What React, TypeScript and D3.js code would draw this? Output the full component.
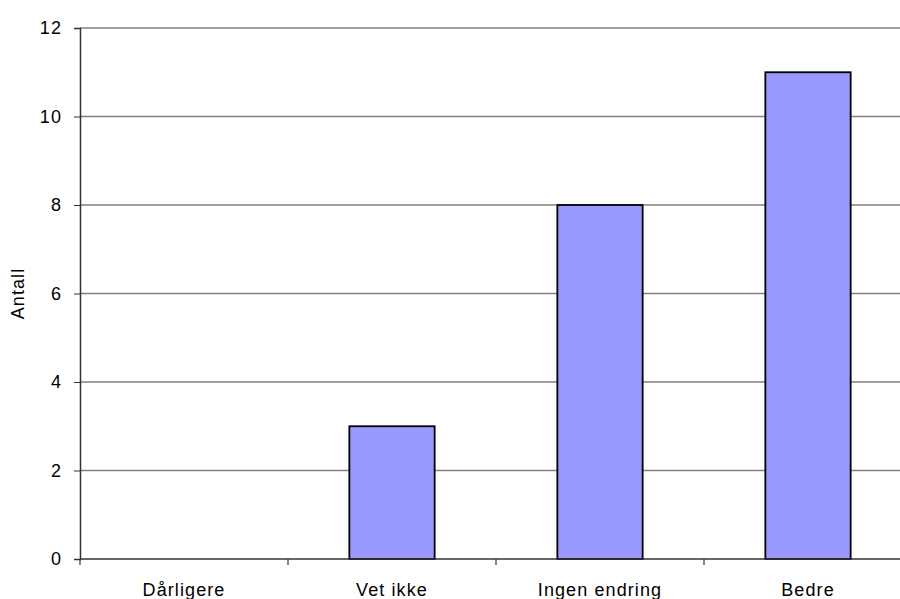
import { useEffect, useRef } from "react";
import * as d3 from "d3";

const categories = ["Dårligere", "Vet ikke", "Ingen endring", "Bedre"];
const counts = [0, 3, 8, 11];
const yTicks = [0, 2, 4, 6, 8, 10, 12];

const W = 900;
const H = 599;
const margin = { left: 80, top: 28, bottom: 40 };

export default function App() {
  const ref = useRef<SVGSVGElement>(null);

  useEffect(() => {
    const svg = d3.select(ref.current);
    svg.selectAll("*").remove();

    const x = d3.scaleBand().domain(categories).range([margin.left, margin.left + 4 * 208]).paddingInner(0).paddingOuter(0);
    const y = d3.scaleLinear().domain([0, 12]).range([H - margin.bottom, margin.top]);
    const font = "'Liberation Sans', Arial, sans-serif";
    const fs = 18;
    const ls = 1.1;

    // gridlines
    svg.append("g")
      .selectAll("line")
      .data(yTicks.filter(t => t > 0))
      .join("line")
      .attr("x1", margin.left)
      .attr("x2", W)
      .attr("y1", d => y(d))
      .attr("y2", d => y(d))
      .attr("stroke", "#808080")
      .attr("stroke-width", 1.5);

    // bars
    const barW = x.bandwidth() * 0.41;
    svg.append("g")
      .selectAll("rect")
      .data(counts.map((v, i) => ({ c: categories[i], v })).filter(d => d.v > 0))
      .join("rect")
      .attr("x", d => x(d.c)! + (x.bandwidth() - barW) / 2)
      .attr("y", d => y(d.v))
      .attr("width", barW)
      .attr("height", d => y(0) - y(d.v))
      .attr("fill", "#9999ff")
      .attr("stroke", "#000")
      .attr("stroke-width", 1.8);

    // y axis
    const yAxis = d3.axisLeft(y).tickValues(yTicks).tickSize(6).tickPadding(12);
    const gy = svg.append("g").attr("transform", `translate(${margin.left},0)`).call(yAxis);
    gy.select(".domain").attr("stroke", "#333").attr("stroke-width", 1.5);
    gy.selectAll(".tick line").attr("stroke", "#333");
    gy.selectAll("text").attr("font-family", font).attr("font-size", fs).attr("letter-spacing", ls).attr("fill", "#000");

    // x axis
    const xAxis = d3.axisBottom(x).tickSize(0).tickPadding(0);
    const gx = svg.append("g").attr("transform", `translate(0,${y(0)})`).call(xAxis);
    gx.select(".domain").attr("d", `M${margin.left},0H${W}`).attr("stroke", "#333").attr("stroke-width", 1.5);
    gx.selectAll("text").attr("font-family", font).attr("font-size", fs).attr("letter-spacing", ls).attr("fill", "#000").attr("dy", 0).attr("y", 37);

    // category separator ticks
    svg.append("g")
      .selectAll("line")
      .data(categories)
      .join("line")
      .attr("x1", d => x(d)!)
      .attr("x2", d => x(d)!)
      .attr("y1", y(0))
      .attr("y2", y(0) + 6)
      .attr("stroke", "#333")
      .attr("stroke-width", 1.2);

    svg.append("text")
      .attr("transform", `translate(24,${(y(0) + y(12)) / 2}) rotate(-90)`)
      .attr("text-anchor", "middle")
      .attr("font-family", font)
      .attr("font-size", fs)
      .attr("letter-spacing", ls)
      .text("Antall");
  }, []);

  return (
    <svg ref={ref} width={W} height={H} style={{ position: "absolute", left: 0, top: 0, background: "#fff" }} />
  );
}
